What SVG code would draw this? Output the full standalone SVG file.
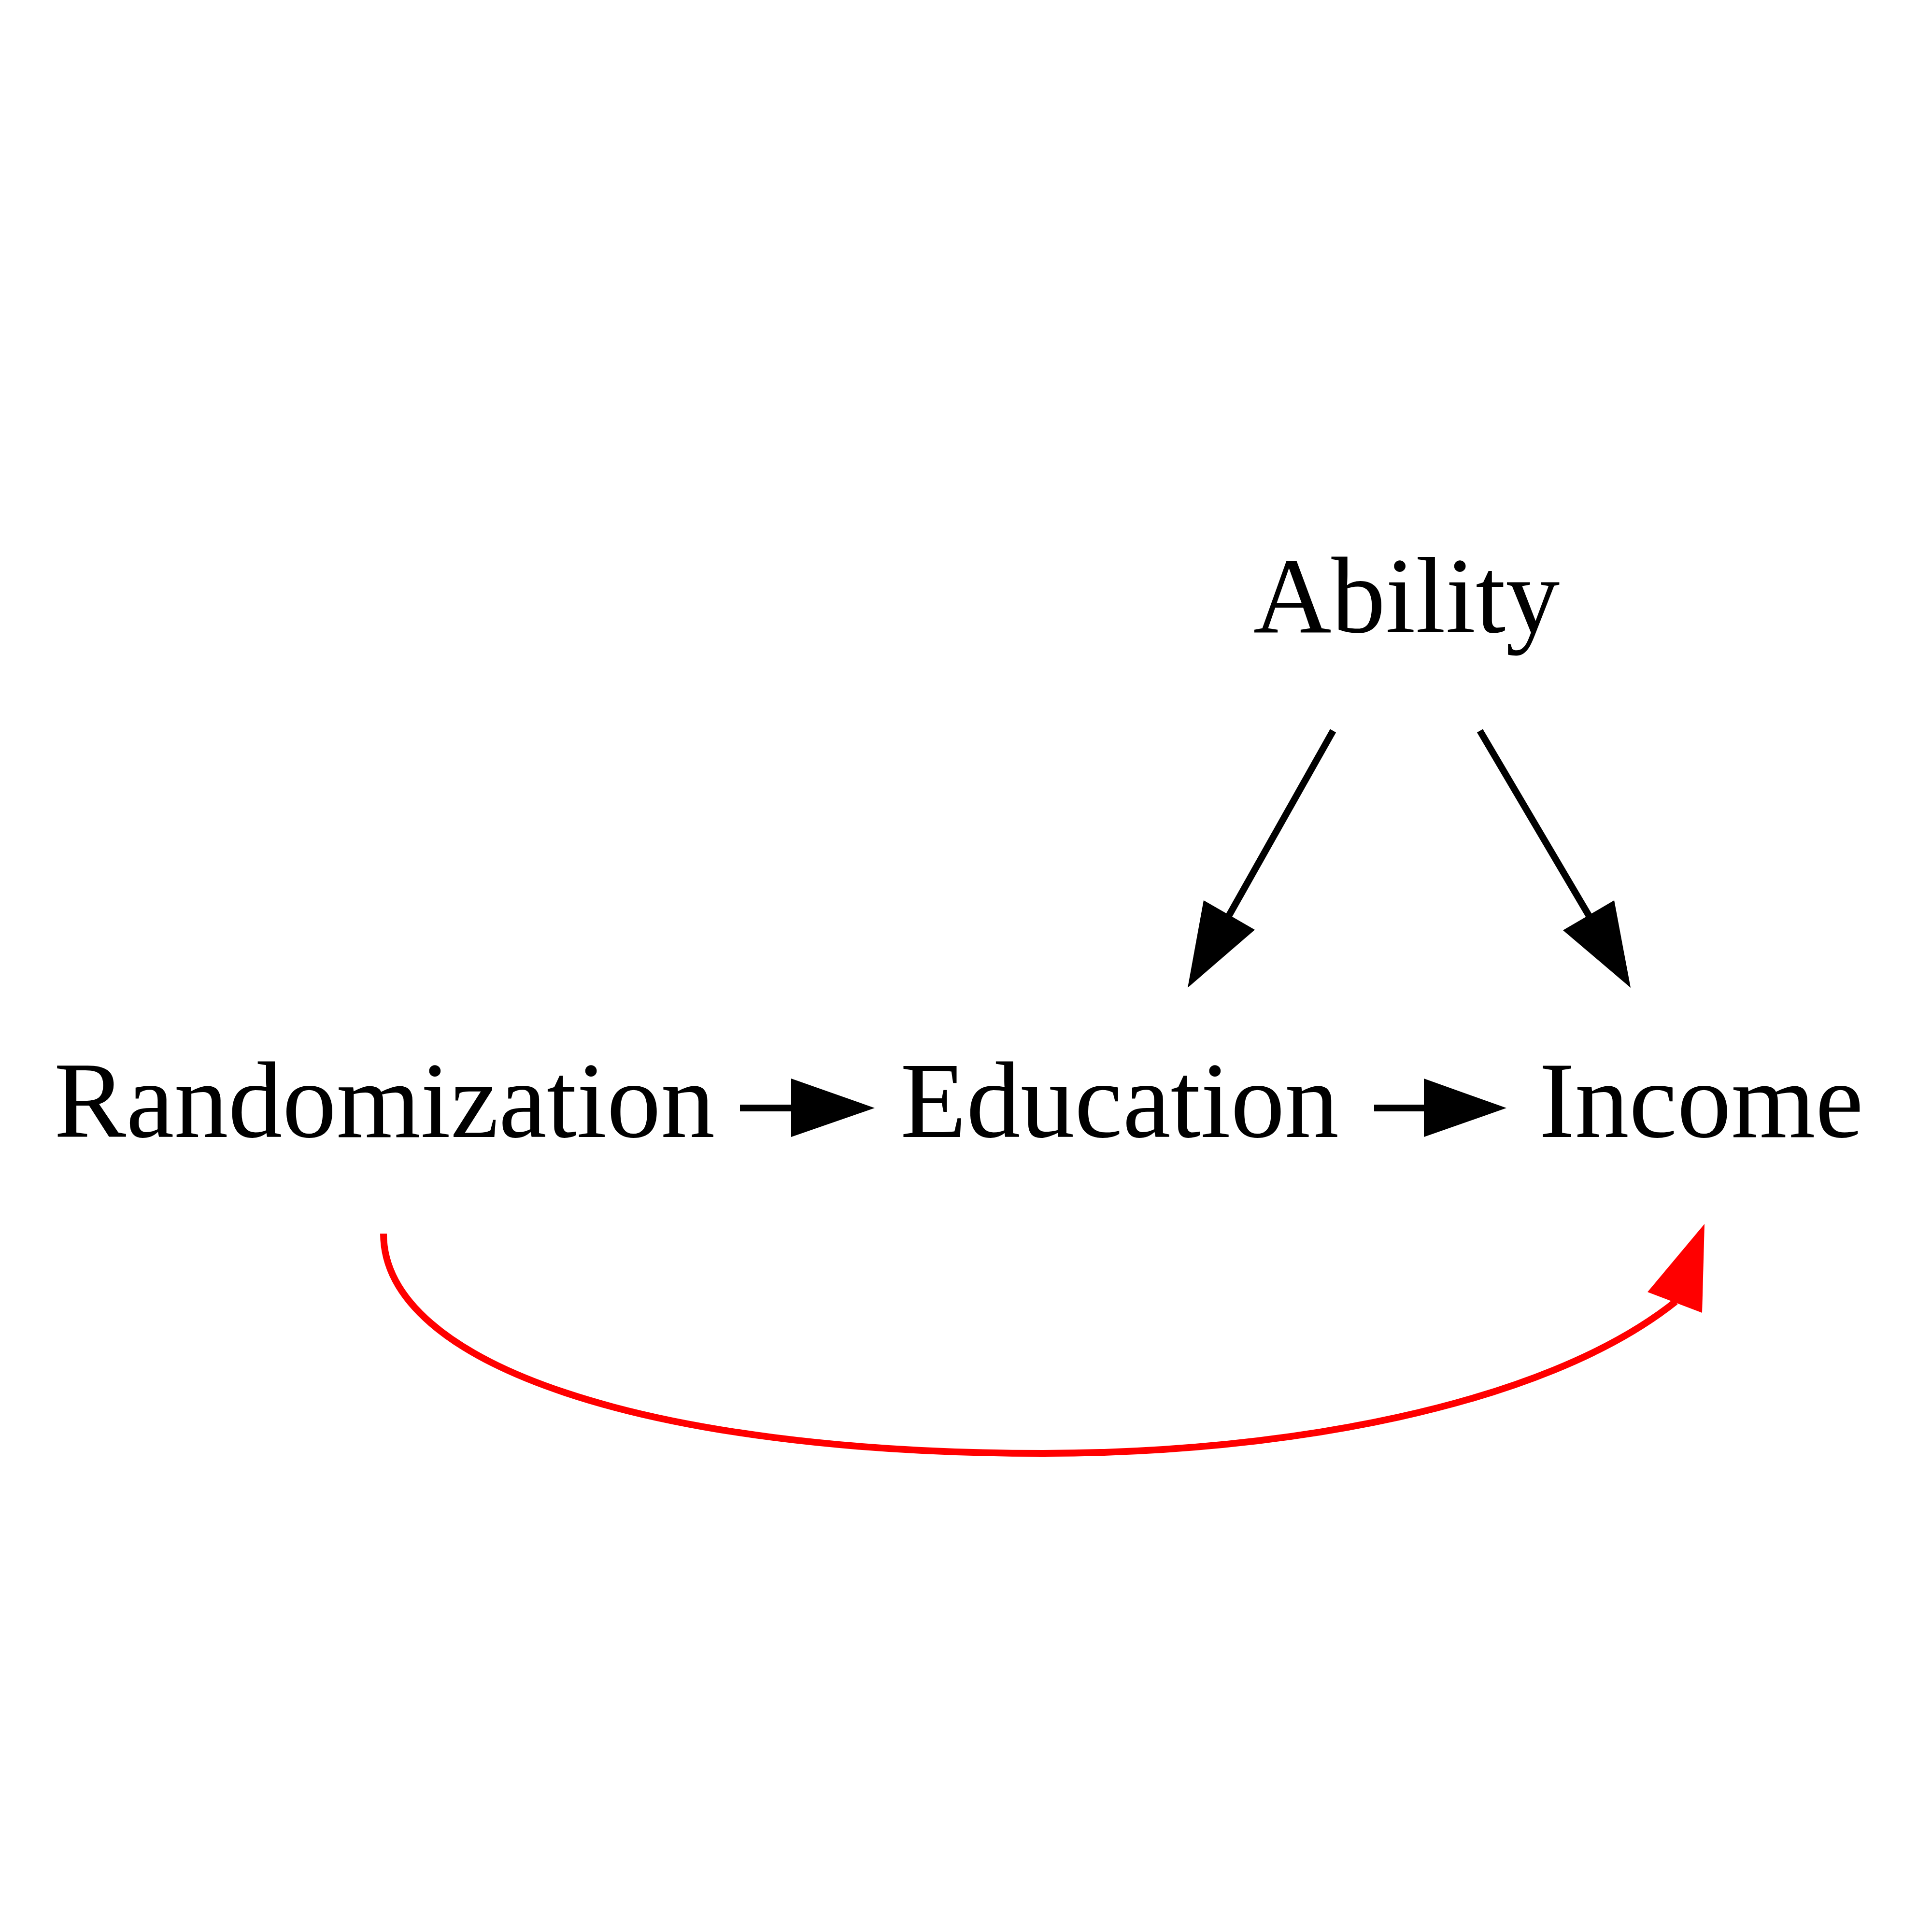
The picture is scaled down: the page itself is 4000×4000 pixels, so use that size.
<svg xmlns="http://www.w3.org/2000/svg" width="4000" height="4000" viewBox="0 0 4000 4000">
<style>
.lbl{font-family:"Liberation Serif","Times New Roman",serif;font-size:224px;fill:#000;text-anchor:middle}
.edge{fill:none;stroke:#000;stroke-width:14}
.head{fill:#000;stroke:none}
.red{fill:none;stroke:#ff0000;stroke-width:14}
.redhead{fill:#ff0000;stroke:none}
</style>
<rect width="4000" height="4000" fill="#fff"/>
<g id="connectors">
<path class="edge" d="M1532,2294 L1640,2294"/>
<polygon class="head" points="1638,2233 1811,2294 1638,2354"/>
<path class="edge" d="M2845,2294 L2950,2294"/>
<polygon class="head" points="2948,2233 3119,2294 2948,2354"/>
<path class="edge" d="M2760,1513 L2543,1898"/>
<polygon class="head" points="2492,1864 2459,2045 2598,1925"/>
<path class="edge" d="M3064,1513 L3291,1898"/>
<polygon class="head" points="3236,1926 3376,2045 3342,1864"/>
<path class="red" d="M794,2554 C794,2826 1343,3009 2160,3009 C2650,3009 3194,2914 3469,2695"/>
<polygon class="redhead" points="3411,2675 3529,2534 3524,2718"/>
</g>
<g id="node-ability"><text class="lbl" x="2912" y="1309">Ability</text></g>
<g id="node-randomization"><text class="lbl" x="796" y="2354">Randomization</text></g>
<g id="node-education"><text class="lbl" x="2318" y="2354">Education</text></g>
<g id="node-income"><text class="lbl" x="3522" y="2354">Income</text></g>
</svg>
